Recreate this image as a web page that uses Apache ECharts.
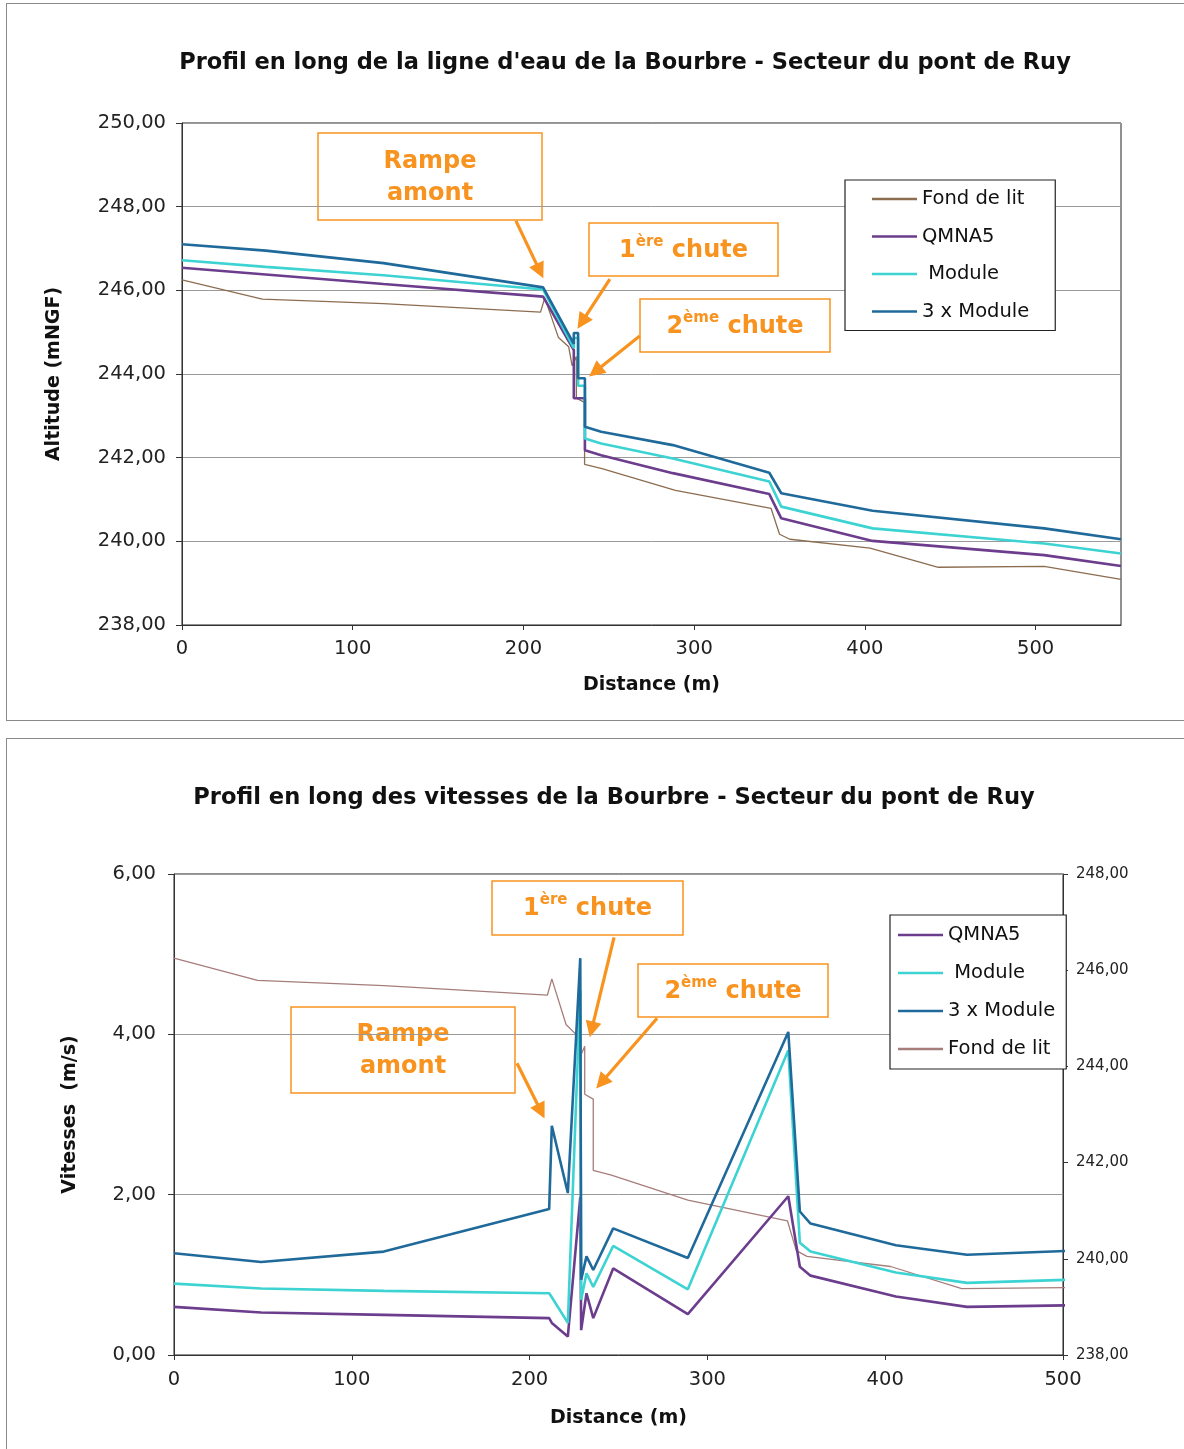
<!DOCTYPE html>
<html>
<head>
<meta charset="utf-8">
<title>Bourbre - Secteur du pont de Ruy</title>
<script src="https://cdn.jsdelivr.net/npm/echarts@6/dist/echarts.min.js"></script>
<style>
  html, body { margin: 0; padding: 0; background: #fff; }
  #wrap { position: relative; width: 1184px; height: 1449px; overflow: hidden; }
  .frame { position: absolute; border: 1px solid #8a8a8a; box-sizing: border-box; }
  #c1 { position: absolute; left: 0; top: 0; width: 1184px; height: 730px; }
  #c2 { position: absolute; left: 0; top: 730px; width: 1184px; height: 719px; }
</style>
</head>
<body>
<div id="wrap">
  <div class="frame" style="left:6px;top:3px;width:1182px;height:718px"></div>
  <div class="frame" style="left:6px;top:738px;width:1182px;height:716px"></div>
  <div id="c1"></div>
  <div id="c2"></div>
</div>
<script>
// ---- Water-line profile (altitude, mNGF) ----
const fondDist = [0, 47, 118, 210, 212.5, 220.5, 226.5, 228.5, 231, 231, 235.8, 235.8, 246, 289, 345, 350, 356, 403, 443, 505, 550];
const fondAlt  = [246.25, 245.79, 245.68, 245.48, 245.82, 244.87, 244.65, 244.20, 244.42, 243.42, 243.32, 241.84, 241.74, 241.22, 240.79, 240.17, 240.05, 239.84, 239.38, 239.40, 239.09];

const qmnaDist = [0, 49, 118, 211.5, 229.5, 229.5, 236, 236, 245.5, 287.5, 344, 351, 404.5, 505, 550];
const qmnaAlt  = [246.54, 246.38, 246.15, 245.85, 244.57, 243.42, 243.42, 242.18, 242.06, 241.63, 241.13, 240.55, 240.01, 239.67, 239.41];

const moduleDist = [0, 49, 118, 211.5, 229.5, 229.5, 232, 232, 236, 236, 245.5, 287.5, 344, 351, 404.5, 505, 550];
const moduleAlt  = [246.72, 246.56, 246.36, 246.02, 244.62, 244.86, 244.86, 243.72, 243.72, 242.46, 242.34, 241.98, 241.43, 240.83, 240.31, 239.95, 239.71];
const module3Alt = [247.10, 246.95, 246.65, 246.07, 244.72, 244.98, 244.98, 243.90, 243.90, 242.74, 242.62, 242.30, 241.64, 241.15, 240.73, 240.31, 240.05];

// ---- Velocity profile (m/s) ----
const velDist    = [0, 49, 118, 211, 212.5, 221.5, 228.5, 229, 232, 235.8, 247, 289, 345.5, 352, 358, 406, 446, 505];
const velQmna    = [0.60, 0.53, 0.50, 0.46, 0.40, 0.23, 1.97, 0.31, 0.77, 0.46, 1.08, 0.51, 1.98, 1.10, 0.99, 0.73, 0.60, 0.62];
const velModule  = [0.89, 0.83, 0.80, 0.77, 0.72, 0.40, 4.55, 0.69, 1.02, 0.85, 1.36, 0.82, 3.80, 1.40, 1.29, 1.03, 0.90, 0.94];
const velModule3 = [1.27, 1.16, 1.29, 1.82, 2.86, 2.02, 4.95, 0.94, 1.23, 1.06, 1.58, 1.21, 4.03, 1.79, 1.64, 1.37, 1.25, 1.30];

// Axis tick values
const altTicks = { min: 238, max: 250, step: 2 };
const velTicks = { min: 0, max: 6, step: 2 };
const bedTicks = { min: 238, max: 248, step: 2 };

// Annotation arrows, in data units: [from, to]
const arrowsAlt = [
  [[195.6, 247.66], [209.6, 246.46]],   // Rampe amont
  [[250.6, 246.27], [234.2, 245.24]],   // 1ère chute
  [[268.1, 244.91], [242.1, 244.06]]    // 2ème chute
];
const arrowsVel = [
  [[192.9, 3.64], [206.4, 3.04]],
  [[247.5, 5.21], [234.9, 4.06]],
  [[271.7, 4.20], [240.4, 3.40]]
];

const FONT = '"DejaVu Sans", Verdana, sans-serif';
const ORANGE = '#f7931e';
const C_FOND = '#8c6d4f';
const C_FOND2 = '#a67d7b';
const C_QMNA = '#6b3d8c';
const C_MOD = '#3dd3d3';
const C_MOD3 = '#1f6a9a';

const zip = (xs, ys) => xs.map((x, i) => [x, ys[i]]);
const fr = v => v.toFixed(2).replace('.', ',');

function noteBox(x, y, w, h, richText) {
  return {
    type: 'group',
    z: 100,
    children: [
      { type: 'rect', shape: { x: x, y: y, width: w, height: h },
        style: { fill: '#fff', stroke: ORANGE, lineWidth: 1.5 } },
      { type: 'text',
        style: {
          text: richText, x: x + w / 2, y: y + h / 2 + 1,
          align: 'center', verticalAlign: 'middle',
          fill: ORANGE, fontFamily: FONT, fontWeight: 'bold', fontSize: 24,
          rich: {
            n: { fontFamily: FONT, fontWeight: 'bold', fontSize: 24, fill: ORANGE, lineHeight: 32 },
            s: { fontFamily: FONT, fontWeight: 'bold', fontSize: 15, fill: ORANGE, verticalAlign: 'top', lineHeight: 32 }
          }
        } }
    ]
  };
}

function arrowMarks(pairs) {
  return {
    silent: true,
    animation: false,
    symbol: ['none', 'triangle'],
    symbolSize: 16,
    label: { show: false },
    emphasis: { disabled: true },
    itemStyle: { color: ORANGE },
    lineStyle: { color: ORANGE, width: 3.2, type: 'solid', opacity: 1 },
    data: pairs.map(p => [{ coord: p[0] }, { coord: p[1] }])
  };
}

function lineSeries(name, data, color, width, extra) {
  return Object.assign({
    name: name, type: 'line', data: data, symbol: 'none', showSymbol: false,
    lineStyle: { color: color, width: width }, itemStyle: { color: color },
    animation: false, clip: true, emphasis: { disabled: true }
  }, extra || {});
}

const axisText = { fontFamily: FONT, fontSize: 19.5, color: '#222' };
const nameText = { fontFamily: FONT, fontSize: 19, fontWeight: 'bold', color: '#111' };

function legendBox(left, top, names, padding, gap) {
  return {
    orient: 'vertical', left: left, top: top,
    data: names.map(n => ({ name: n, icon: 'rect',
      itemStyle: { opacity: 1 } })),
    padding: padding, itemGap: gap,
    itemWidth: 45, itemHeight: 2.5,
    backgroundColor: '#fff', borderColor: '#222', borderWidth: 1.2,
    textStyle: { fontFamily: FONT, fontSize: 19.5, color: '#111', lineHeight: 20 },
    formatter: n => (n === 'Module' ? ' ' + n : n),
    selectedMode: false
  };
}

// ---------------- Chart 1: ligne d'eau ----------------
const chart1 = echarts.init(document.getElementById('c1'), null, { renderer: 'canvas' });
chart1.setOption({
  backgroundColor: 'transparent',
  animation: false,
  grid: { left: 182, top: 123, width: 939, height: 502, show: true, borderColor: '#222', borderWidth: 1, backgroundColor: 'transparent', containLabel: false, outerBoundsMode: 'none' },
  xAxis: {
    type: 'value', min: 0, max: 550, interval: 100,
    axisLine: { show: true, lineStyle: { color: '#333', width: 1 } },
    axisTick: { show: true, length: 5, lineStyle: { color: '#333' } },
    axisLabel: Object.assign({ margin: 14, showMaxLabel: false }, axisText),
    splitLine: { show: false },
    name: 'Distance (m)', nameLocation: 'middle', nameGap: 51, nameTextStyle: nameText
  },
  yAxis: {
    type: 'value', min: altTicks.min, max: altTicks.max, interval: altTicks.step,
    axisLine: { show: true, lineStyle: { color: '#333', width: 1 } },
    axisTick: { show: true, length: 6, lineStyle: { color: '#333' } },
    axisLabel: Object.assign({ margin: 16, formatter: fr }, axisText),
    splitLine: { show: true, lineStyle: { color: '#9a9a9a', width: 1 } },
    name: 'Altitude (mNGF)', nameLocation: 'middle', nameGap: 118, nameTextStyle: nameText
  },
  legend: legendBox(845, 180, ['Fond de lit', 'QMNA5', 'Module', '3 x Module'], [9, 26, 9, 27], 17.5),
  series: [
    lineSeries('Fond de lit', zip(fondDist, fondAlt), C_FOND, 1.3),
    lineSeries('QMNA5', zip(qmnaDist, qmnaAlt), C_QMNA, 2.6),
    lineSeries('Module', zip(moduleDist, moduleAlt), C_MOD, 2.6),
    lineSeries('3 x Module', zip(moduleDist, module3Alt), C_MOD3, 2.6, { markLine: arrowMarks(arrowsAlt) })
  ],
  graphic: [
    { type: 'text', z: 100, style: { text: "Profil en long de la ligne d'eau de la Bourbre - Secteur du pont de Ruy",
      x: 625, y: 63, align: 'center', verticalAlign: 'middle', fill: '#111', fontFamily: FONT, fontWeight: 'bold', fontSize: 22.5 } },
    noteBox(318, 133, 224, 87, '{n|Rampe}\n{n|amont}'),
    noteBox(589, 223, 189, 53, '{n|1}{s|ère}{n| chute}'),
    noteBox(640, 299, 190, 53, '{n|2}{s|ème}{n| chute}')
  ]
});

// ---------------- Chart 2: vitesses ----------------
const chart2 = echarts.init(document.getElementById('c2'), null, { renderer: 'canvas' });
chart2.setOption({
  backgroundColor: 'transparent',
  animation: false,
  grid: { left: 174, top: 144, width: 889, height: 481, show: true, borderColor: '#222', borderWidth: 1, backgroundColor: 'transparent', containLabel: false, outerBoundsMode: 'none' },
  xAxis: {
    type: 'value', min: 0, max: 500, interval: 100,
    axisLine: { show: true, lineStyle: { color: '#333', width: 1 } },
    axisTick: { show: true, length: 5, lineStyle: { color: '#333' } },
    axisLabel: Object.assign({ margin: 15 }, axisText),
    splitLine: { show: false },
    name: 'Distance (m)', nameLocation: 'middle', nameGap: 54, nameTextStyle: nameText
  },
  yAxis: [
    {
      type: 'value', min: velTicks.min, max: velTicks.max, interval: velTicks.step, position: 'left',
      axisLine: { show: true, lineStyle: { color: '#333', width: 1 } },
      axisTick: { show: true, length: 6, lineStyle: { color: '#333' } },
      axisLabel: Object.assign({ margin: 18, formatter: fr }, axisText),
      splitLine: { show: true, lineStyle: { color: '#9a9a9a', width: 1 } },
      name: 'Vitesses  (m/s)', nameLocation: 'middle', nameGap: 94, nameTextStyle: nameText
    },
    {
      type: 'value', min: bedTicks.min, max: bedTicks.max, interval: bedTicks.step, position: 'right',
      axisLine: { show: true, lineStyle: { color: '#333', width: 1 } },
      axisTick: { show: true, length: 5, lineStyle: { color: '#333' } },
      axisLabel: { margin: 13, formatter: fr, fontFamily: FONT, fontSize: 15, color: '#222' },
      splitLine: { show: false }
    }
  ],
  legend: legendBox(890, 185, ['QMNA5', 'Module', '3 x Module', 'Fond de lit'], [10, 11, 10, 8], 18),
  series: [
    lineSeries('Fond de lit', zip(fondDist, fondAlt), C_FOND2, 1.3, { yAxisIndex: 1 }),
    lineSeries('QMNA5', zip(velDist, velQmna), C_QMNA, 2.6),
    lineSeries('Module', zip(velDist, velModule), C_MOD, 2.6),
    lineSeries('3 x Module', zip(velDist, velModule3), C_MOD3, 2.6, { markLine: arrowMarks(arrowsVel) })
  ],
  graphic: [
    { type: 'text', z: 100, style: { text: 'Profil en long des vitesses de la Bourbre - Secteur du pont de Ruy',
      x: 614, y: 68, align: 'center', verticalAlign: 'middle', fill: '#111', fontFamily: FONT, fontWeight: 'bold', fontSize: 22.6 } },
    noteBox(492, 151, 191, 54, '{n|1}{s|ère}{n| chute}'),
    noteBox(638, 234, 190, 53, '{n|2}{s|ème}{n| chute}'),
    noteBox(291, 277, 224, 86, '{n|Rampe}\n{n|amont}')
  ]
});
</script>
</body>
</html>
